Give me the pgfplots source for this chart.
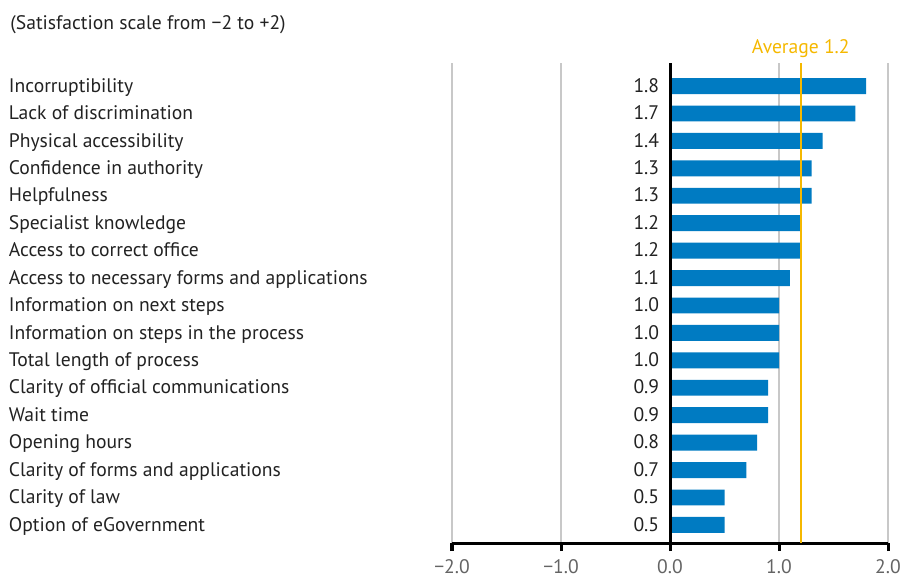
\documentclass[border=0pt]{standalone}
\usepackage{fontspec}
\setmainfont{PT Sans}
\usepackage{pgfplots}
\pgfplotsset{compat=1.18}
\usepackage{pgfplotstable}

\definecolor{barblue}{RGB}{0,123,194}
\definecolor{avgorange}{RGB}{245,184,0}
\definecolor{txt}{RGB}{34,34,34}
\definecolor{ticktxt}{RGB}{100,100,100}
\definecolor{gridgray}{RGB}{200,200,200}

% idx 0 = top row
\pgfplotstableread[col sep=comma]{
idx,val
0,1.8
1,1.7
2,1.4
3,1.3
4,1.3
5,1.2
6,1.2
7,1.1
8,1.0
9,1.0
10,1.0
11,0.9
12,0.9
13,0.8
14,0.7
15,0.5
16,0.5
}\satdata

\begin{document}
\fontsize{9.8pt}{11.5pt}\selectfont
\begin{tikzpicture}
\useasboundingbox (0,0) rectangle (452pt,293pt);
\node[anchor=base west, inner sep=0, text=txt] at (5pt,278.5pt) {(Satisfaction scale from −2 to +2)};
\begin{axis}[
  at={(226pt,21.5pt)}, anchor=south west,
  scale only axis, width=218pt, height=240pt,
  xmin=-2, xmax=2,
  y dir=reverse, ymin=-0.84, ymax=16.66,
  axis x line*=bottom, axis y line*=left,
  x axis line style={-, line width=1.5pt, black},
  y axis line style={draw=none},
  xtick={-2,-1,0,1,2},
  xticklabels={−2.0,−1.0,0.0,1.0,2.0},
  tick align=outside, major tick length=4pt,
  x tick style={line width=1.5pt, black},
  y tick style={draw=none},
  xticklabel style={text=ticktxt, yshift=-1pt},
  xmajorgrids, grid style={gridgray, line width=0.6pt},
  ytick={0,...,16},
  yticklabels={Incorruptibility, Lack of discrimination, Physical accessibility,
    Confidence in authority, Helpfulness, Specialist knowledge, Access to correct office,
    Access to necessary forms and applications, Information on next steps,
    Information on steps in the process, Total length of process,
    Clarity of official communications, Wait time, Opening hours,
    Clarity of forms and applications, Clarity of law, Option of eGovernment},
  yticklabel style={anchor=west, xshift=-221pt, text=txt, text height=1.55ex, text depth=0.3ex},
  clip=false,
]
\addplot[xbar, bar width=0.58, fill=barblue, draw=none] table[x=val, y=idx] {\satdata};
\addplot[draw=none, mark=none, nodes near coords={\pgfmathprintnumber[fixed,fixed zerofill,precision=1,assume math mode=true]{\pgfplotspointmeta}},
  point meta=explicit, nodes near coords style={anchor=east, xshift=-2pt, text=txt, text height=1.55ex, text depth=0.3ex}]
  table[x expr=0, y=idx, meta=val] {\satdata};
\addplot[black, line width=1.5pt] coordinates {(0,-0.84) (0,16.66)};
\addplot[avgorange, line width=1.2pt] coordinates {(1.2,-0.84) (1.2,16.66)};
\node[anchor=base, text=avgorange, yshift=5pt] at (axis cs:1.2,-0.84) {Average 1.2};
\end{axis}
\end{tikzpicture}
\end{document}
